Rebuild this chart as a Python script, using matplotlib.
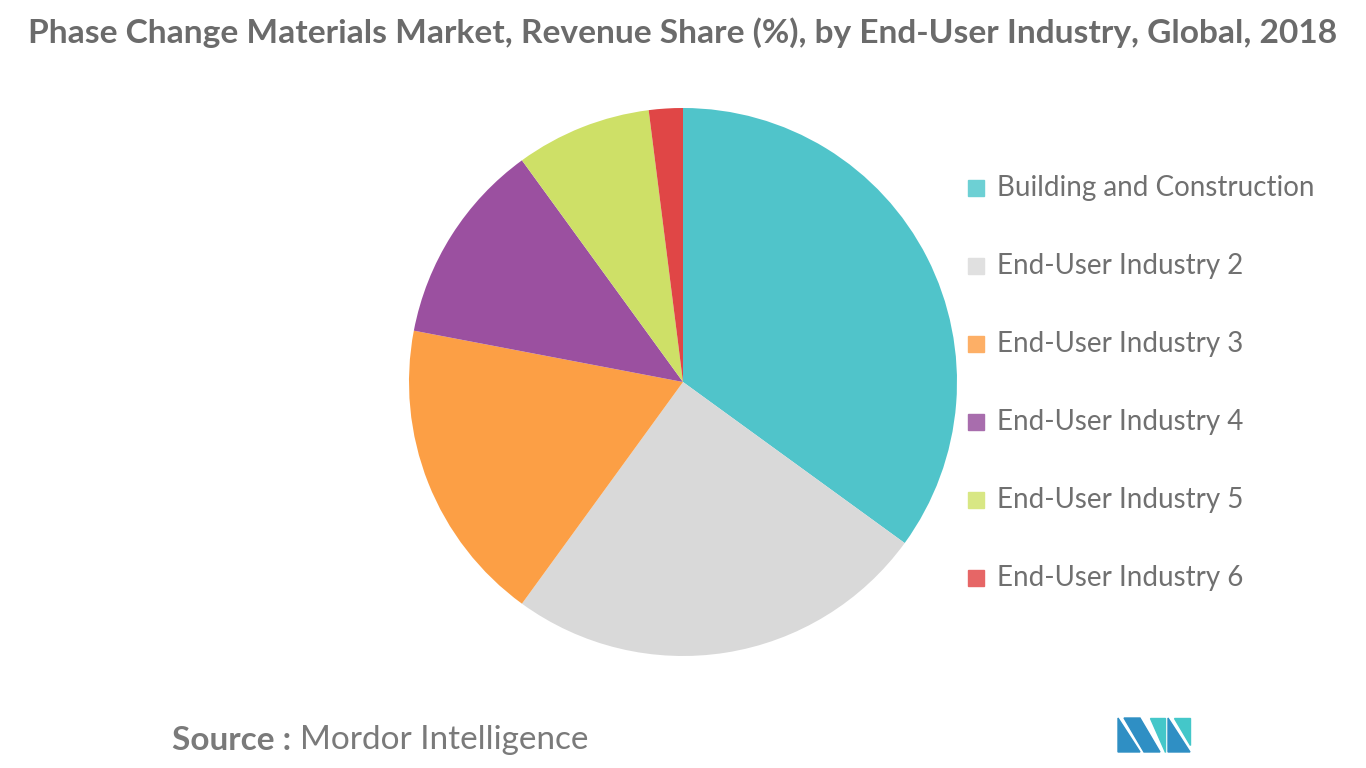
import matplotlib
matplotlib.use("Agg")
import matplotlib.pyplot as plt
from matplotlib.patches import Polygon

labels = ["Building and Construction", "End-User Industry 2", "End-User Industry 3",
          "End-User Industry 4", "End-User Industry 5", "End-User Industry 6"]
shares = [35, 25, 18, 12, 8, 2]
colors = ["#50C4CA", "#D9D9D9", "#FC9F45", "#9B50A0", "#CEE067", "#E04646"]
legend_colors = ["#6DD0D4", "#E0E0E0", "#FDAF66", "#A86DAD", "#D8E784", "#E66666"]

plt.rcParams["font.family"] = "Lato"
fig = plt.figure(figsize=(13.66, 7.68), dpi=100)
fig.text(0.5, 0.958, "Phase Change Materials Market, Revenue Share (%), by End-User Industry, Global, 2018",
         ha="center", va="center", fontsize=24.1, fontweight="bold", color="#6b6b6b")

ax = fig.add_axes([683/1366 - 274/1366, 1 - (382+274)/768, 548/1366, 548/768])
ax.pie(shares, colors=colors, startangle=90, counterclock=False, radius=1)
ax.set_xlim(-1, 1); ax.set_ylim(-1, 1); ax.set_aspect("auto"); ax.axis("off")

for i, (lab, c) in enumerate(zip(labels, legend_colors)):
    y = 188 + i * 78
    fig.patches.append(plt.Rectangle((968/1366, 1 - (y+8)/768), 16/1366, 16/768,
                                     transform=fig.transFigure, color=c))
    fig.text(997/1366, 1 - y/768, lab, ha="left", va="center", fontsize=20,
             color="#707070")

fig.text(172/1366, 1 - 740/768, "Source :", ha="left", va="center", fontsize=24,
         fontweight="bold", color="#7a7a7a")
fig.text(300/1366, 1 - 740/768, "Mordor Intelligence", ha="left", va="center", fontsize=24,
         color="#7a7a7a")

def P(pts, c):
    fig.patches.append(Polygon([(x/1366, 1 - y/768) for x, y in pts], closed=True,
                               transform=fig.transFigure, color=c))
P([(1118, 752), (1118, 718), (1140, 752)], "#2F8FC4")
P([(1124, 718), (1140, 718), (1160, 752), (1144, 752)], "#2F8FC4")
P([(1150, 718), (1165, 718), (1165, 752)], "#44C7C9")
P([(1168, 718), (1190, 752), (1168, 752)], "#2F8FC4")
P([(1174, 718), (1190, 718), (1190, 745)], "#44C7C9")
fig.savefig("out.png", dpi=100, facecolor="white")
